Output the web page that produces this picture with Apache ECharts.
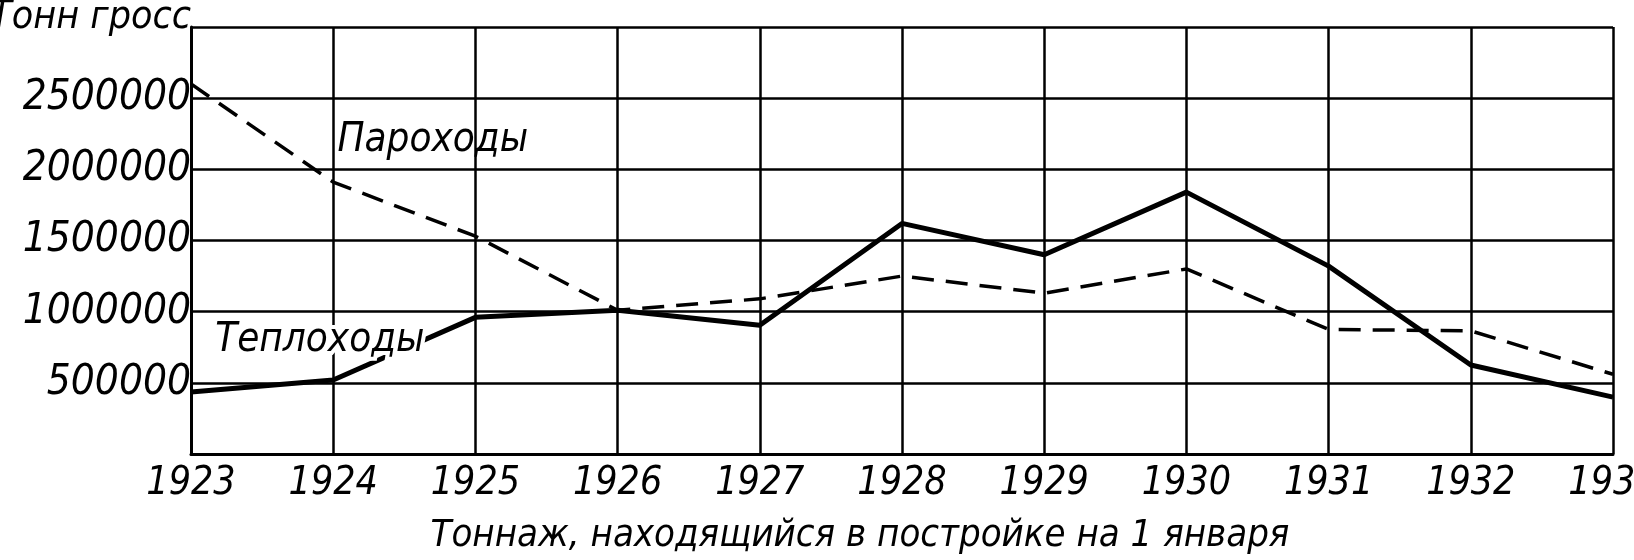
<!DOCTYPE html>
<html>
<head>
<meta charset="utf-8">
<script src="https://cdn.jsdelivr.net/npm/echarts@6/dist/echarts.min.js"></script>
<style>
html,body{margin:0;padding:0;background:#fff;}
#chart{width:1634px;height:560px;}
</style>
</head>
<body>
<div id="chart"></div>
<script>
// ---- data ----
const years = ['1923','1924','1925','1926','1927','1928','1929','1930','1931','1932','1933'];
const steamers = [2600000, 1910000, 1530000, 1010000, 1090000, 1250000, 1130000, 1300000, 875000, 865000, 560000];
const motorships = [435000, 520000, 960000, 1010000, 905000, 1620000, 1400000, 1840000, 1320000, 625000, 400000];
const yTicks = [0, 500000, 1000000, 1500000, 2000000, 2500000, 3000000];
const yAxisName = 'Тонн гросс';
const xAxisName = 'Тоннаж, находящийся в постройке на 1 января';
const steamerName = 'Пароходы';
const motorName = 'Теплоходы';

const FONT = "'DejaVu Sans Condensed', 'DejaVu Sans', sans-serif";
const chart = echarts.init(document.getElementById('chart'), null, {renderer: 'canvas'});

const option = {
  backgroundColor: '#ffffff',
  animation: false,
  grid: {left: 191, right: 21, top: 27, bottom: 106, containLabel: false, outerBoundsMode: 'none'},
  xAxis: {
    type: 'category',
    data: years,
    boundaryGap: false,
    axisLine: {show: true, lineStyle: {color: '#000', width: 3}},
    axisTick: {show: false},
    axisLabel: {color: '#000', fontFamily: FONT, fontStyle: 'italic', fontSize: 39, margin: 10},
    splitLine: {show: true, lineStyle: {color: '#000', width: 2.5}},
    name: xAxisName,
    nameLocation: 'middle',
    nameGap: 63,
    nameTextStyle: {color: '#000', fontFamily: FONT, fontStyle: 'italic', fontSize: 38, padding: [0, 84, 0, 0]}
  },
  yAxis: {
    type: 'value',
    min: yTicks[0],
    max: yTicks[yTicks.length - 1],
    interval: yTicks[1] - yTicks[0],
    axisLine: {show: true, lineStyle: {color: '#000', width: 3}},
    axisTick: {show: false},
    axisLabel: {
      color: '#000', fontFamily: FONT, fontStyle: 'italic', fontSize: 42, margin: 0,
      formatter: function (v) { return (v === yTicks[0] || v === yTicks[yTicks.length - 1]) ? '' : String(v); }
    },
    splitLine: {show: true, lineStyle: {color: '#000', width: 2.5}},
    name: yAxisName,
    nameLocation: 'end',
    nameGap: 9,
    nameTextStyle: {color: '#000', fontFamily: FONT, fontStyle: 'italic', fontSize: 39, align: 'right', verticalAlign: 'middle'}
  },
  series: [
    {
      name: steamerName, type: 'line', data: steamers, symbol: 'none',
      lineStyle: {color: '#000', width: 3.5, type: [22, 12]}, z: 3
    },
    {
      name: motorName, type: 'line', data: motorships, symbol: 'none',
      lineStyle: {color: '#000', width: 5, type: 'solid'}, z: 4
    }
  ]
};
chart.setOption(option);

function at(idx, val) {
  const i0 = Math.floor(idx), f = idx - i0;
  const a = chart.convertToPixel({gridIndex: 0}, [i0, val]);
  const b = chart.convertToPixel({gridIndex: 0}, [i0 + 1, val]);
  return [a[0] + f * (b[0] - a[0]), a[1]];
}
const pS = at(1.03, 2200000);
const pM = at(0.17, 800000);
chart.setOption({
  graphic: [
    {type: 'text', x: pS[0], y: pS[1], z: 100,
     style: {text: steamerName, fill: '#000', font: 'italic 40px ' + FONT, textAlign: 'left', textVerticalAlign: 'middle'}},
    {type: 'text', x: pM[0], y: pM[1], z: 100,
     style: {text: motorName, fill: '#000', font: 'italic 40px ' + FONT, textAlign: 'left', textVerticalAlign: 'middle',
             stroke: '#fff', lineWidth: 8}}
  ]
});
</script>
</body>
</html>
